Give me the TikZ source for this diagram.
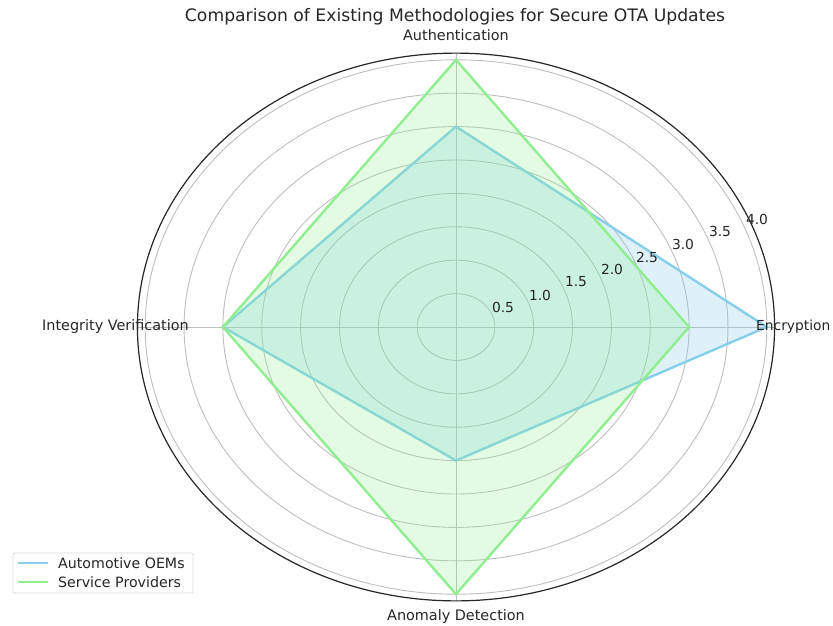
\documentclass[tikz,border=0pt]{standalone}
\usepackage{fontspec}
\setmainfont{DejaVu Sans}
\definecolor{oemblue}{RGB}{135,206,235}
\definecolor{spgreen}{RGB}{144,238,144}
\definecolor{gridgray}{RGB}{190,190,190}
\definecolor{txt}{RGB}{38,38,38}
\begin{document}
\begin{tikzpicture}[x=1pt,y=-1pt,
  gridline/.style={draw=gridgray,line width=0.9pt},
  framebox/.style={draw=black!85,line width=1.2pt},
  series/.style={line width=2.4pt,line join=miter},
  axislabel/.style={font=\fontsize{14.4}{16}\selectfont,text=txt,inner sep=0pt},
  ticklabel/.style={font=\fontsize{13.8}{15}\selectfont,text=txt,inner sep=0pt},
  legendtext/.style={font=\fontsize{14.2}{16}\selectfont,text=txt,inner sep=0pt,anchor=west}]
\useasboundingbox (0,0) rectangle (833,625);
% title
\node[font=\fontsize{17.2}{20}\selectfont,text=txt,inner sep=0pt] (title) at (455,17) {Comparison of Existing Methodologies for Secure OTA Updates};
% polar axes
\begin{scope}[shift={(456pt,-327pt)},x=77.7pt,y=66.8pt]
  \coordinate (O) at (0,0);
  % radial rings
  \foreach \r in {0.5,1.0,...,4.0}
    \draw[gridline] (O) ellipse [x radius=\r*77.7pt, y radius=\r*66.8pt];
  % spokes
  \coordinate (sE) at (4.1,0);
  \coordinate (sN) at (0,4.1);
  \coordinate (sW) at (-4.1,0);
  \coordinate (sS) at (0,-4.1);
  \foreach \s in {sE,sN,sW,sS} \draw[gridline] (O) -- (\s);
  % Automotive OEMs: Encryption 4, Authentication 3, Integrity 3, Anomaly 2
  \coordinate (a1) at (4,0);
  \coordinate (a2) at (0,3);
  \coordinate (a3) at (-3,0);
  \coordinate (a4) at (0,-2);
  \fill[oemblue,fill opacity=0.28] (a1) -- (a2) -- (a3) -- (a4) -- cycle;
  \draw[series,oemblue] (a1) -- (a2) -- (a3) -- (a4) -- cycle;
  % Service Providers: Encryption 3, Authentication 4, Integrity 3, Anomaly 4
  \coordinate (b1) at (3,0);
  \coordinate (b2) at (0,4);
  \coordinate (b3) at (-3,0);
  \coordinate (b4) at (0,-4);
  \fill[spgreen,fill opacity=0.25] (b1) -- (b2) -- (b3) -- (b4) -- cycle;
  \draw[series,spgreen] (b1) -- (b2) -- (b3) -- (b4) -- cycle;
  % outer frame
  \draw[framebox] (O) ellipse [x radius=4.1*77.7pt, y radius=4.1*66.8pt];
\end{scope}
% radial tick labels
\node[ticklabel] (t05) at (503,307) {0.5};
\node[ticklabel] (t10) at (540,295) {1.0};
\node[ticklabel] (t15) at (576,282) {1.5};
\node[ticklabel] (t20) at (612,269) {2.0};
\node[ticklabel] (t25) at (647,257) {2.5};
\node[ticklabel] (t30) at (683,244) {3.0};
\node[ticklabel] (t35) at (720,231) {3.5};
\node[ticklabel] (t40) at (757,219) {4.0};
% axis labels
\node[axislabel] (lAuth) at (456,35) {Authentication};
\node[axislabel,anchor=west,font=\fontsize{13.8}{16}\selectfont] (lEnc) at (756,327) {Encryption};
\node[axislabel,anchor=east] (lInt) at (189,327) {Integrity Verification};
\node[axislabel] (lAno) at (456,617) {Anomaly Detection};
% legend
\draw[draw=black!15,fill=white,rounded corners=2pt,line width=0.8pt] (13,553) rectangle (193,593);
\coordinate (l1a) at (18,563); \coordinate (l1b) at (48,563);
\coordinate (l2a) at (18,582); \coordinate (l2b) at (48,582);
\draw[series,oemblue] (l1a) -- (l1b);
\draw[series,spgreen] (l2a) -- (l2b);
\node[legendtext] (leg1) at (58,563) {Automotive OEMs};
\node[legendtext] (leg2) at (58,582) {Service Providers};
\end{tikzpicture}
\end{document}
